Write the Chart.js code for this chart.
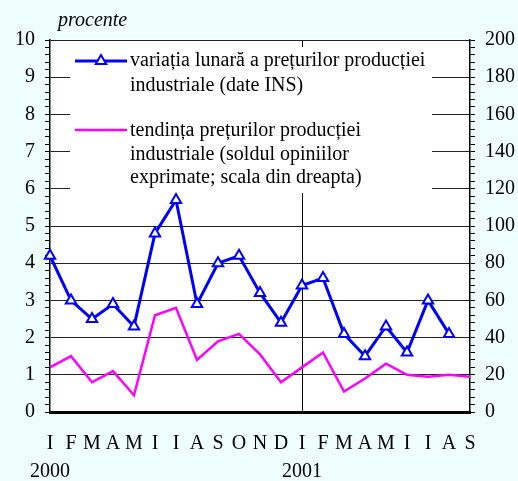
<!DOCTYPE html>
<html>
<head>
<meta charset="utf-8">
<script src="https://cdn.jsdelivr.net/npm/chart.js@4/dist/chart.umd.min.js"></script>
<style>
  html, body { margin: 0; padding: 0; background: #eefffb; }
  #wrap { width: 518px; height: 481px; position: relative; }
</style>
</head>
<body>
<div id="wrap"><canvas id="c" width="518" height="481"></canvas></div>
<script>
// ---- data ----
const months = ['I','F','M','A','M','I','I','A','S','O','N','D','I','F','M','A','M','I','I','A','S'];
const years  = ['2000','','','','','','','','','','','','2001','','','','','','','',''];
const monthlyVariation = [4.2, 3.0, 2.5, 2.9, 2.3, 4.8, 5.7, 2.9, 4.0, 4.2, 3.2, 2.4, 3.4, 3.6, 2.1, 1.5, 2.3, 1.6, 3.0, 2.1, null];
const priceTrend       = [24, 30, 16, 22, 9, 52, 56, 28, 38, 42, 31, 16, 24, 32, 11, 18, 26, 20, 19, 20, 19];
const leftTicks  = [0,1,2,3,4,5,6,7,8,9,10];
const rightTicks = [0,20,40,60,80,100,120,140,160,180,200];
const titleText = 'procente';
const legend1 = ['variația lunară a prețurilor producției', 'industriale (date INS)'];
const legend2 = ['tendința prețurilor producției', 'industriale (soldul opiniilor', 'exprimate; scala din dreapta)'];

const FONT = '"Liberation Serif", "Times New Roman", serif';
const labels = months.map((m, i) => years[i] ? [m, years[i]] : m);
const near = (v, arr) => arr.find(t => Math.abs(t - v) < 1e-6);

function triangle(ctx, cx, cy, r) {
  ctx.beginPath();
  for (let k = 0; k < 3; k++) {
    const ang = k * 2 * Math.PI / 3;
    const px = cx + Math.sin(ang) * r, py = cy - Math.cos(ang) * r;
    k === 0 ? ctx.moveTo(px, py) : ctx.lineTo(px, py);
  }
  ctx.closePath();
}

const decor = {
  id: 'decor',
  beforeDraw(chart) {
    const {ctx, chartArea: a} = chart;
    ctx.save();
    ctx.fillStyle = '#ffffff';
    ctx.fillRect(a.left, a.top, a.right - a.left, a.bottom - a.top);
    ctx.restore();
  },
  beforeDatasetsDraw(chart) {
    const {ctx} = chart;
    ctx.save();
    // legend box (white, covers grid)
    ctx.fillStyle = '#ffffff';
    ctx.fillRect(70, 47, 362, 146);
    // entry 1
    ctx.strokeStyle = '#0000ff';
    ctx.lineWidth = 3;
    ctx.beginPath(); ctx.moveTo(75, 61); ctx.lineTo(127, 61); ctx.stroke();
    ctx.fillStyle = '#ffffff'; ctx.lineWidth = 2;
    triangle(ctx, 101, 61, 6);
    ctx.fill(); ctx.stroke();
    // entry 2
    ctx.strokeStyle = '#ff00ff';
    ctx.lineWidth = 2.5;
    ctx.beginPath(); ctx.moveTo(75, 130); ctx.lineTo(127, 130); ctx.stroke();
    // texts
    ctx.fillStyle = '#000000';
    ctx.font = '20px ' + FONT;
    ctx.textBaseline = 'alphabetic';
    ctx.textAlign = 'left';
    legend1.forEach((t, i) => ctx.fillText(t, 130, 66 + i * 24.5));
    legend2.forEach((t, i) => ctx.fillText(t, 130, 136 + i * 23.5));
    ctx.restore();
  },
  afterDraw(chart) {
    const {ctx} = chart;
    ctx.save();
    ctx.fillStyle = '#000000';
    ctx.font = 'italic 20px ' + FONT;
    ctx.textBaseline = 'alphabetic';
    ctx.textAlign = 'left';
    ctx.fillText(titleText, 58, 26);
    ctx.restore();
  }
};

new Chart(document.getElementById('c'), {
  type: 'line',
  data: {
    labels: labels,
    datasets: [
      {
        label: legend1.join(' '),
        data: monthlyVariation,
        yAxisID: 'y',
        borderColor: '#0000ff',
        borderWidth: 3,
        pointStyle: 'triangle',
        pointRadius: 6,
        pointBorderWidth: 2,
        pointBackgroundColor: '#ffffff',
        pointBorderColor: '#0000ff',
        tension: 0,
        clip: false,
        order: 1
      },
      {
        label: legend2.join(' '),
        data: priceTrend,
        yAxisID: 'y2',
        borderColor: '#ff00ff',
        borderWidth: 2.5,
        pointRadius: 0,
        tension: 0,
        order: 2
      }
    ]
  },
  options: {
    responsive: false,
    animation: false,
    devicePixelRatio: 1,
    layout: { padding: { top: 40, left: 0, right: 0, bottom: 0 } },
    plugins: { legend: { display: false }, title: { display: false }, tooltip: { enabled: false } },
    scales: {
      x: {
        type: 'category',
        offset: false,
        border: { display: true, color: '#000', width: 3 },
        grid: {
          drawTicks: false,
          color: (c) => (c.index === 12 ? '#000' : 'rgba(0,0,0,0)'),
          lineWidth: 1
        },
        ticks: {
          autoSkip: false, maxRotation: 0, minRotation: 0,
          color: '#000', padding: 18,
          font: { family: FONT, size: 20, lineHeight: 1.4 }
        },
        afterFit: (s) => { s.height = 69; }
      },
      y: {
        position: 'left',
        min: 0, max: 10,
        border: { display: true, color: '#000', width: 1.5 },
        grid: {
          color: (c) => (c.tick && near(c.tick.value, leftTicks) !== undefined ? '#222' : 'rgba(0,0,0,0)'),
          tickColor: '#000',
          tickLength: 5,
          lineWidth: 1
        },
        ticks: {
          stepSize: 0.2, maxTicksLimit: 1000, autoSkip: false,
          color: '#000', padding: 10,
          font: { family: FONT, size: 20 },
          callback: (v) => { const t = near(v, leftTicks); return t !== undefined ? String(t) : ''; }
        },
        afterFit: (s) => { s.width = 50; }
      },
      y2: {
        position: 'right',
        min: 0, max: 200,
        border: { display: true, color: '#000', width: 1.5 },
        grid: {
          drawOnChartArea: false,
          tickColor: '#000',
          tickLength: 5
        },
        ticks: {
          stepSize: 4, maxTicksLimit: 1000, autoSkip: false,
          color: '#000', padding: 10,
          font: { family: FONT, size: 20 },
          callback: (v) => { const t = near(v, rightTicks); return t !== undefined ? String(t) : ''; }
        },
        afterFit: (s) => { s.width = 48; }
      }
    }
  },
  plugins: [decor]
});
</script>
</body>
</html>
